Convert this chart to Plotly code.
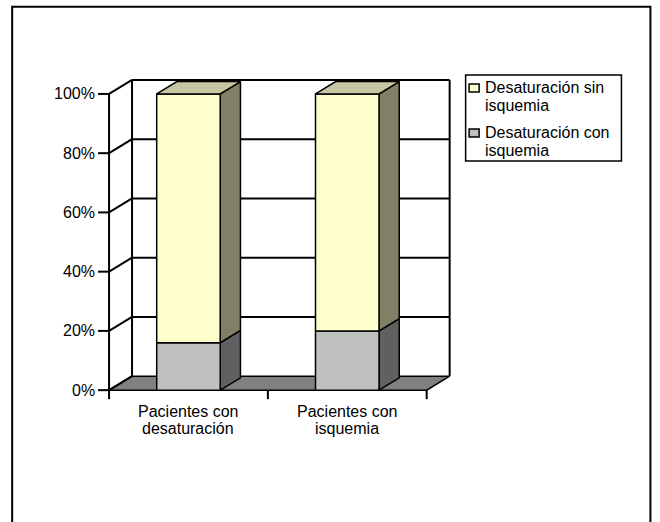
import plotly.graph_objects as go

# ---- data ----
category_lines = [["Pacientes con", "desaturación"], ["Pacientes con", "isquemia"]]
con_isquemia = [16, 20]   # % Desaturación con isquemia (lower segment)
sin_isquemia = [84, 80]   # % Desaturación sin isquemia (upper segment)
legend_sin = ["Desaturación sin", "isquemia"]
legend_con = ["Desaturación con", "isquemia"]
y_ticks = [0, 20, 40, 60, 80, 100]
y_tick_labels = ["0%", "20%", "40%", "60%", "80%", "100%"]

# ---- styling / geometry ----
FONT = "Liberation Sans, Arial, sans-serif"
FS = 16
W, H = 660, 522
PX_X = 159.0          # pixels per category unit
PX_Y = 2.96           # pixels per percent
ORIGIN_PX = (109, 390)  # pixel position of (x=-0.5, y=0)
DEPTH_X = 23 / PX_X   # 3-D depth offset in data units
DEPTH_Y = 14 / PX_Y
BAR_HALF = 0.2
BAR_DEPTH = 0.88
YTICK_LEN = 11 / PX_X
XTICK_LEN = 9 / PX_Y

C_YEL = ("#FFFFCC", "#808066", "#C6C6A2")   # front, side, top
C_GRY = ("#C0C0C0", "#606060", "#A0A0A0")
C_FLOOR = "#808080"
EDGE = dict(color="black", width=1.5)

n = len(category_lines)
x_left, x_right = -0.5, n - 0.5
xr = [x_left - 0.12, x_right + DEPTH_X + 0.04]
yr = [-4, 100 + DEPTH_Y + 2]

l = ORIGIN_PX[0] - (x_left - xr[0]) * PX_X
plot_w = (xr[1] - xr[0]) * PX_X
r = W - l - plot_w
plot_bottom = ORIGIN_PX[1] + (0 - yr[0]) * PX_Y
b = H - plot_bottom
t = ORIGIN_PX[1] - yr[1] * PX_Y
plot_h = plot_bottom - t


def px_to_paper(px, py):
    return (px - l) / plot_w, (plot_bottom - py) / plot_h


fig = go.Figure()


def poly(xs, ys, fill):
    fig.add_trace(go.Scatter(
        x=list(xs) + [xs[0]], y=list(ys) + [ys[0]], mode="lines",
        fill="toself", fillcolor=fill, line=EDGE,
        showlegend=False, hoverinfo="skip"))


def lines(segs, width=1.5):
    xs, ys = [], []
    for (x0, y0), (x1, y1) in segs:
        xs += [x0, x1, None]
        ys += [y0, y1, None]
    fig.add_trace(go.Scatter(x=xs, y=ys, mode="lines",
                             line=dict(color="black", width=width),
                             showlegend=False, hoverinfo="skip"))


# floor
poly([x_left, x_right, x_right + DEPTH_X, x_left + DEPTH_X],
     [0, 0, DEPTH_Y, DEPTH_Y], C_FLOOR)

# walls: gridlines on back wall and side wall, edges, front axis, ticks
segs = []
for v in y_ticks:
    if v > 0:
        segs.append(((x_left + DEPTH_X, v + DEPTH_Y), (x_right + DEPTH_X, v + DEPTH_Y)))
    segs.append(((x_left, v), (x_left + DEPTH_X, v + DEPTH_Y)))
    segs.append(((x_left - YTICK_LEN, v), (x_left, v)))
segs.append(((x_left + DEPTH_X, DEPTH_Y), (x_left + DEPTH_X, 100 + DEPTH_Y)))
segs.append(((x_right + DEPTH_X, DEPTH_Y), (x_right + DEPTH_X, 100 + DEPTH_Y)))
segs.append(((x_left, 0), (x_left, 100)))
for k in range(n + 1):
    xb = x_left + k
    segs.append(((xb, 0), (xb, -XTICK_LEN)))
lines(segs, 2)

# stacked 3-D bars
ddx, ddy = DEPTH_X * BAR_DEPTH, DEPTH_Y * BAR_DEPTH
for i in range(n):
    x0, x1 = i - BAR_HALF, i + BAR_HALF
    base = 0
    stack = [(con_isquemia[i], C_GRY), (sin_isquemia[i], C_YEL)]
    for j, (val, (cf, cs, ct)) in enumerate(stack):
        top = base + val
        poly([x1, x1 + ddx, x1 + ddx, x1], [base, base + ddy, top + ddy, top], cs)
        poly([x0, x1, x1, x0], [base, base, top, top], cf)
        if j == len(stack) - 1:
            poly([x0, x0 + ddx, x1 + ddx, x1], [top, top + ddy, top + ddy, top], ct)
        base = top

txt_font = dict(family=FONT, size=FS, color="black")
annotations = []
for v, lab in zip(y_ticks, y_tick_labels):
    annotations.append(dict(x=x_left - YTICK_LEN, y=v, xref="x", yref="y",
                            text=lab, showarrow=False, xanchor="right",
                            yanchor="middle", xshift=-1, font=txt_font))
for i, parts in enumerate(category_lines):
    for k, part in enumerate(parts):
        annotations.append(dict(x=i, y=0, xref="x", yref="y", text=part,
                                showarrow=False, xanchor="center",
                                yanchor="middle", yshift=-21 - 17 * k,
                                font=txt_font))

shapes = []
# outer chart frame
fx0, fy0 = px_to_paper(12, 530)
fx1, fy1 = px_to_paper(651, 7)
shapes.append(dict(type="rect", xref="paper", yref="paper",
                   x0=fx0, y0=fy0, x1=fx1, y1=fy1,
                   line=dict(color="black", width=2)))

# legend box with swatches and two-line labels
bx0, by0 = px_to_paper(466, 161)
bx1, by1 = px_to_paper(622, 75)
shapes.append(dict(type="rect", xref="paper", yref="paper",
                   x0=bx0, y0=by0, x1=bx1, y1=by1, fillcolor="white",
                   line=dict(color="black", width=1.5)))
for item_top, parts, col in [(88, legend_sin, C_YEL[0]), (133, legend_con, C_GRY[0])]:
    sx0, sy0 = px_to_paper(469.5, item_top + 4)
    sx1, sy1 = px_to_paper(479.5, item_top - 4)
    shapes.append(dict(type="rect", xref="paper", yref="paper",
                       x0=sx0, y0=sy0, x1=sx1, y1=sy1, fillcolor=col,
                       line=dict(color="black", width=1.5)))
    for k, part in enumerate(parts):
        ax, ay = px_to_paper(483, item_top + 17.5 * k)
        annotations.append(dict(x=ax, y=ay, xref="paper", yref="paper",
                                text=part, showarrow=False, xanchor="left",
                                yanchor="middle", font=txt_font))

fig.update_layout(
    width=W, height=H, autosize=False,
    margin=dict(l=l, r=r, t=t, b=b, pad=0),
    paper_bgcolor="white", plot_bgcolor="white",
    xaxis=dict(range=xr, visible=False, fixedrange=True),
    yaxis=dict(range=yr, visible=False, fixedrange=True),
    showlegend=False,
    annotations=annotations,
    shapes=shapes,
    font=txt_font,
)

fig.write_html("out.html")
